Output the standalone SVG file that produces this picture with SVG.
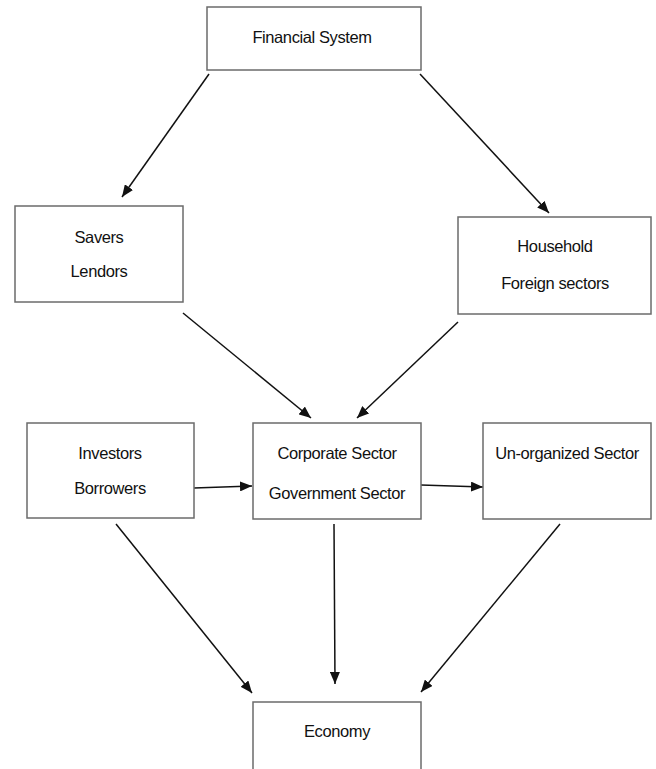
<svg xmlns="http://www.w3.org/2000/svg" width="656" height="769" viewBox="0 0 656 769">
<style>
.box{fill:#fff;stroke:#6b6b6b;stroke-width:1.5}
.t{font-family:"Liberation Sans",Arial,sans-serif;font-size:16.5px;letter-spacing:-0.4px;fill:#111;text-anchor:middle}
.c{stroke:#111;stroke-width:1.5;fill:none;marker-end:url(#ah)}
</style>
<defs>
<marker id="ah" viewBox="0 0 12 10" refX="12" refY="5" markerWidth="12" markerHeight="10" markerUnits="userSpaceOnUse" orient="auto">
<path d="M0,0 L12,5 L0,10 z" fill="#111"/>
</marker>
</defs>
<rect width="656" height="769" fill="#fff"/>
<g id="connectors">
<line class="c" x1="209" y1="74" x2="122" y2="197"/>
<line class="c" x1="420" y1="74" x2="549" y2="213"/>
<line class="c" x1="183" y1="313" x2="311" y2="418"/>
<line class="c" x1="458" y1="322" x2="357" y2="418"/>
<line class="c" x1="194" y1="488" x2="252" y2="486"/>
<line class="c" x1="421" y1="485" x2="483" y2="487"/>
<line class="c" x1="116" y1="524" x2="252" y2="693"/>
<line class="c" x1="334" y1="524" x2="335" y2="684"/>
<line class="c" x1="560" y1="524" x2="421" y2="692"/>
</g>
<g id="financial-system">
<rect class="box" x="207" y="7" width="214" height="63"/>
<text class="t" x="312" y="43">Financial System</text>
</g>
<g id="savers-lendors">
<rect class="box" x="15" y="206" width="168" height="96"/>
<text class="t" x="99" y="243">Savers</text>
<text class="t" x="99" y="277">Lendors</text>
</g>
<g id="household-foreign">
<rect class="box" x="458" y="217" width="193" height="97"/>
<text class="t" x="555" y="252">Household</text>
<text class="t" x="555" y="289">Foreign sectors</text>
</g>
<g id="investors-borrowers">
<rect class="box" x="27" y="423" width="167" height="95"/>
<text class="t" x="110" y="459">Investors</text>
<text class="t" x="110" y="494">Borrowers</text>
</g>
<g id="corporate-government">
<rect class="box" x="253" y="423" width="168" height="96"/>
<text class="t" x="337" y="459">Corporate Sector</text>
<text class="t" x="337" y="499">Government Sector</text>
</g>
<g id="unorganized">
<rect class="box" x="483" y="423" width="168" height="96"/>
<text class="t" x="567" y="459">Un-organized Sector</text>
</g>
<g id="economy">
<rect class="box" x="253" y="702" width="168" height="80"/>
<text class="t" x="337" y="737">Economy</text>
</g>
</svg>
